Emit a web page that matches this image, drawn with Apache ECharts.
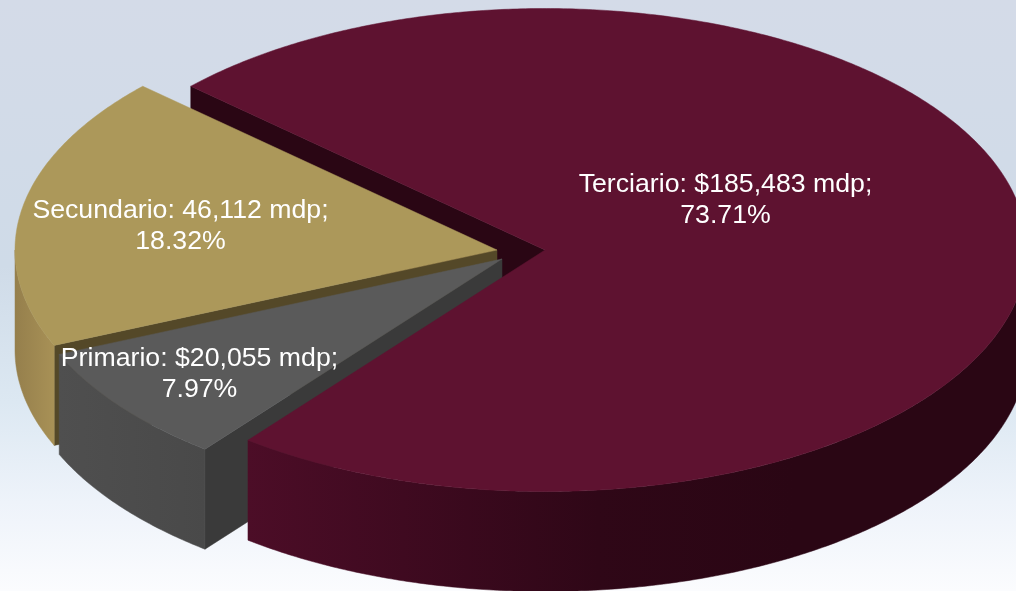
<!DOCTYPE html>
<html>
<head>
<meta charset="utf-8">
<style>html,body{margin:0;padding:0;background:#fff}#c{width:1016px;height:591px}</style>
<script src="https://cdn.jsdelivr.net/npm/echarts@6/dist/echarts.min.js"></script>
</head>
<body>
<div id="c"></div>
<script>
// Data, clockwise from the first slice
const categories = ['Terciario', 'Primario', 'Secundario'];
const values = [185483, 20055, 46112];
const valueLabels = ['$185,483 mdp', '$20,055 mdp', '46,112 mdp'];
const percentLabels = ['73.71%', '7.97%', '18.32%'];

// Presentation
const RX = 482, RY = 241.5, DEPTH = 100, START_ANGLE = 222.7;
const apexes = [[545, 250], [502, 259], [497, 250]];
const labelCenters = [[725.5, 200.5], [199.5, 374], [180.5, 226]];
const topColors = ['#5E1230', '#5A5A5A', '#AC985A'];
const cutColors = ['#2A0614', '#3A3A3A', '#544828'];
const wallStops = [
  [[0, '#4C0D27'], [0.2, '#3F0A20'], [0.45, '#2F0717'], [0.7, '#2A0614'], [1, '#2A0614']],
  [[0, '#4F4F4F'], [1, '#494949']],
  [[0, '#957F4C'], [1, '#A89156']]
];
const total = values.reduce((a, b) => a + b, 0);
const ranges = [];
values.reduce((start, v) => {
  const end = start + v / total * 360;
  ranges.push([start, end]);
  return end;
}, START_ANGLE);

function pt(i, deg, dy) {
  const t = deg * Math.PI / 180;
  return [apexes[i][0] + RX * Math.cos(t), apexes[i][1] + RY * Math.sin(t) + (dy || 0)];
}
function arc(i, a, b, dy) {
  const pts = [];
  const n = Math.max(2, Math.ceil(Math.abs(b - a) * 2));
  for (let k = 0; k <= n; k++) pts.push(pt(i, a + (b - a) * k / n, dy));
  return pts;
}
function frontRange(a, b) {
  // Part of the arc on the near half of the ellipse
  for (const base of [0, 360]) {
    const s = Math.max(a, base), e = Math.min(b, base + 180);
    if (e > s) return [s, e];
  }
  return null;
}
function poly(points, fill) {
  return { type: 'polygon', shape: { points }, style: { fill, stroke: fill, lineWidth: 0.5 } };
}

const cutOrder = [0, 2, 1];
const bodyOrder = [2, 1, 0];

function renderCut(params, api) {
  const i = api.value(0);
  const a = ranges[i][0];
  const p = pt(i, a), c = apexes[i];
  return poly([p, c, [c[0], c[1] + DEPTH], [p[0], p[1] + DEPTH]], cutColors[i]);
}
function renderBody(params, api) {
  const i = api.value(0);
  const [a, b] = ranges[i];
  const children = [];
  const f = frontRange(a, b);
  if (f) {
    const pts = arc(i, f[0], f[1], 0).concat(arc(i, f[1], f[0], DEPTH));
    children.push(poly(pts, {
      type: 'linear', x: 0, y: 0, x2: 1, y2: 0,
      colorStops: wallStops[i].map(s => ({ offset: s[0], color: s[1] }))
    }));
  }
  children.push(poly([apexes[i]].concat(arc(i, a, b, 0)), topColors[i]));
  return { type: 'group', children };
}
function renderLabel(params, api) {
  const i = api.value(0);
  return {
    type: 'text',
    x: labelCenters[i][0], y: labelCenters[i][1],
    style: {
      text: categories[i] + ': ' + valueLabels[i] + ';\n' + percentLabels[i],
      fill: '#FFFFFF', font: '26.7px "Liberation Sans", Arial, sans-serif',
      lineHeight: 31, align: 'center', verticalAlign: 'middle'
    }
  };
}

const chart = echarts.init(document.getElementById('c'), null, { renderer: 'canvas', width: 1016, height: 591 });
chart.setOption({
  animation: false,
  backgroundColor: {
    type: 'linear', x: 0, y: 0, x2: 0, y2: 1,
    colorStops: [
      { offset: 0, color: '#D4DBE8' },
      { offset: 0.45, color: '#CFDBE8' },
      { offset: 0.68, color: '#DCE8F2' },
      { offset: 0.85, color: '#EEF3FA' },
      { offset: 1, color: '#FBFCFE' }
    ]
  },
  series: [
    { type: 'custom', coordinateSystem: 'none', silent: true, renderItem: renderCut,
      data: cutOrder.map(i => [i, values[i]]) },
    { type: 'custom', coordinateSystem: 'none', silent: true, renderItem: renderBody,
      data: bodyOrder.map(i => [i, values[i]]) },
    { type: 'custom', coordinateSystem: 'none', silent: true, renderItem: renderLabel,
      data: categories.map((c, i) => [i, values[i]]) }
  ]
});
</script>
</body>
</html>
